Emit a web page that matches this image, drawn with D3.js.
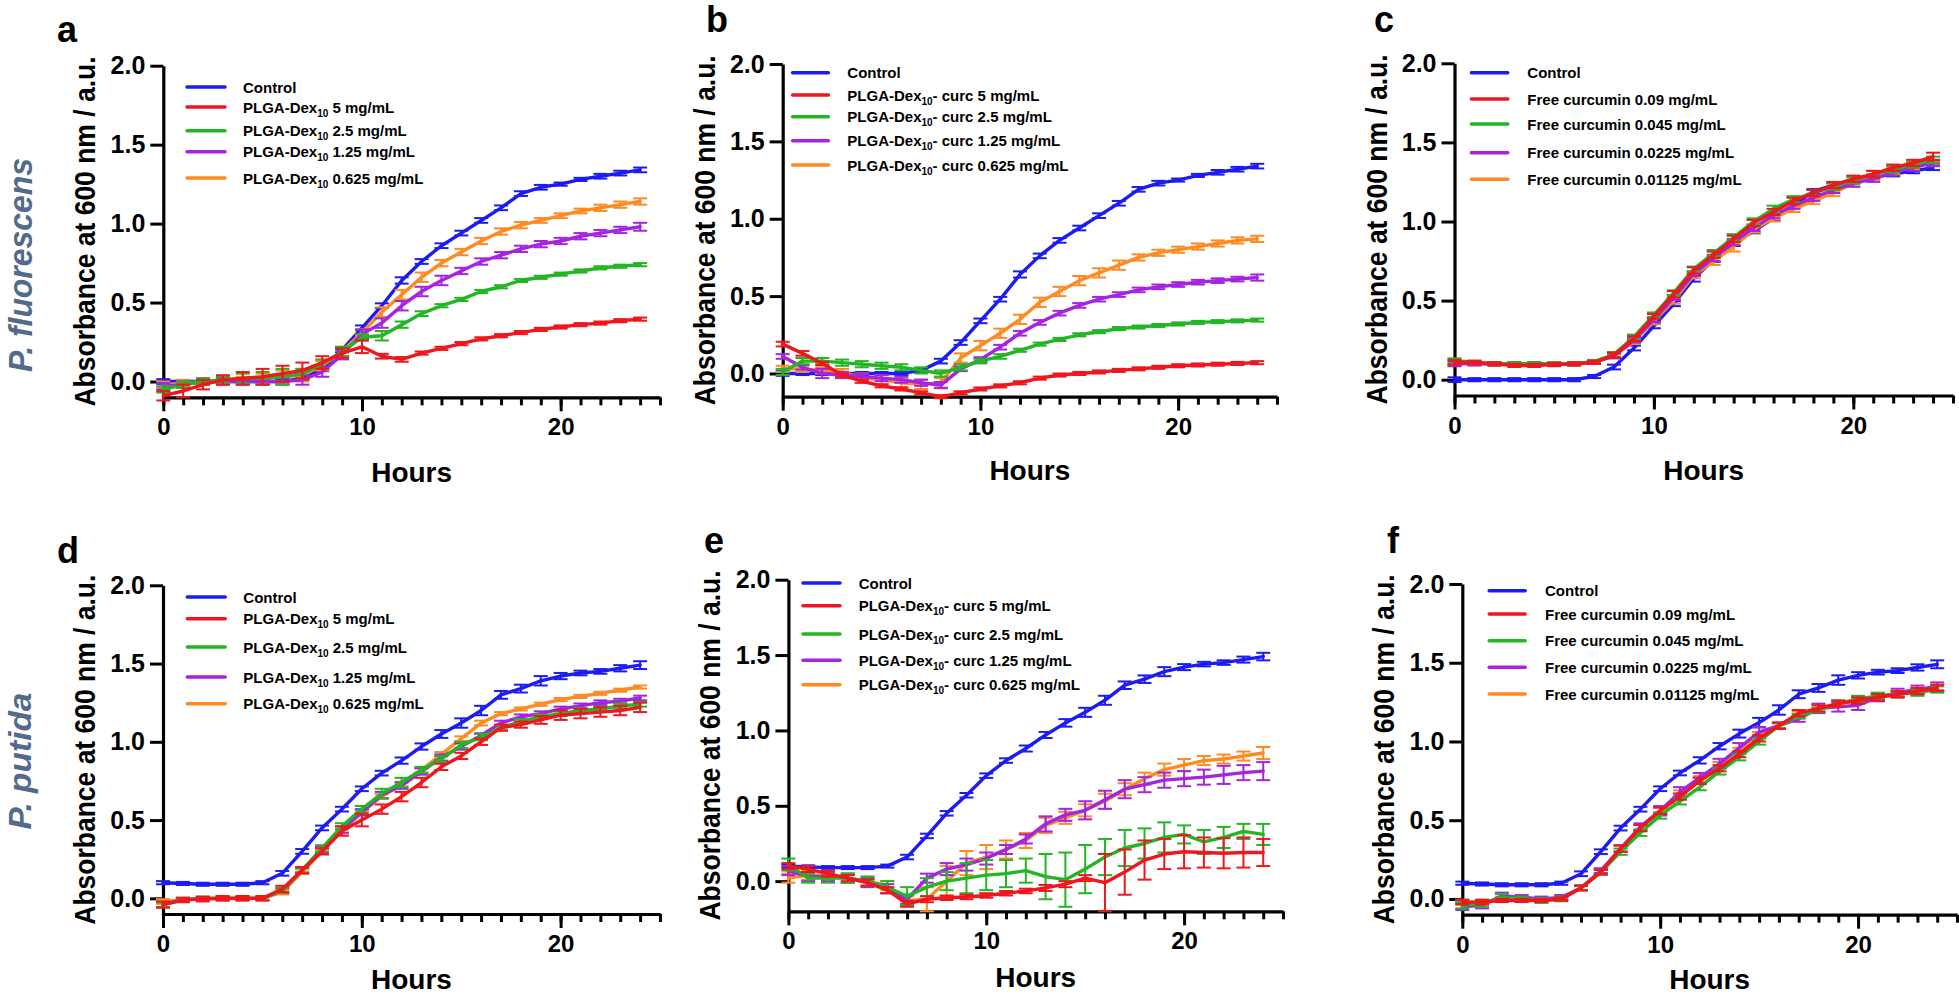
<!DOCTYPE html>
<html><head><meta charset="utf-8">
<script src="https://cdn.jsdelivr.net/npm/d3@7"></script>
<style>
body{margin:0;background:#fff}
svg{display:block}
text{font-family:"Liberation Sans",Arial,sans-serif;font-weight:bold;fill:#000}
</style>
</head><body>
<svg id="chart" width="1959" height="998"></svg>
<script>
// ---------------- DATA ----------------
const hours = [0,1,2,3,4,5,6,7,8,9,10,11,12,13,14,15,16,17,18,19,20,21,22,23,24];
const xTickLabels = [0,10,20];
const yTickValues = [0,0.5,1,1.5,2];

const seriesColors = ["#1c1cf2","#f0161e","#24b524","#a424e2","#ff8a22"];

const legendDex = [["Control"],["PLGA-Dex","10"," 5 mg/mL"],["PLGA-Dex","10"," 2.5 mg/mL"],["PLGA-Dex","10"," 1.25 mg/mL"],["PLGA-Dex","10"," 0.625 mg/mL"]];
const legendDexCurc = [["Control"],["PLGA-Dex","10","- curc 5 mg/mL"],["PLGA-Dex","10","- curc 2.5 mg/mL"],["PLGA-Dex","10","- curc 1.25 mg/mL"],["PLGA-Dex","10","- curc 0.625 mg/mL"]];
const legendFree = [["Control"],["Free curcumin 0.09 mg/mL"],["Free curcumin 0.045 mg/mL"],["Free curcumin 0.0225 mg/mL"],["Free curcumin 0.01125 mg/mL"]];

const yTitle = "Absorbance at 600 nm / a.u.";
const xTitle = "Hours";
const speciesLabels = ["P. fluorescens","P. putida"];

// controls
const ctrlFluo    = [0.00,0.00,0.00,0.00,0.00,0.00,0.00,0.02,0.08,0.20,0.34,0.48,0.64,0.76,0.86,0.94,1.02,1.10,1.19,1.23,1.25,1.28,1.30,1.32,1.34];
const ctrlFluoErr = [0.015,0.01,0.01,0.01,0.01,0.01,0.01,0.01,0.015,0.015,0.015,0.015,0.02,0.015,0.015,0.015,0.015,0.015,0.015,0.015,0.01,0.01,0.015,0.015,0.015];
const ctrlPut     = [0.10,0.095,0.09,0.09,0.09,0.10,0.16,0.30,0.45,0.57,0.70,0.80,0.88,0.97,1.05,1.12,1.20,1.30,1.34,1.39,1.42,1.44,1.45,1.47,1.49];
const ctrlPutErr  = [0.01,0.01,0.01,0.01,0.01,0.01,0.015,0.015,0.015,0.015,0.015,0.015,0.02,0.02,0.025,0.03,0.03,0.025,0.025,0.03,0.02,0.015,0.015,0.02,0.025];

// panel a
const aRed    = [-0.09,-0.06,-0.02,0.01,0.02,0.03,0.05,0.07,0.12,0.18,0.22,0.16,0.14,0.18,0.21,0.24,0.27,0.29,0.31,0.33,0.345,0.36,0.37,0.385,0.395];
const aGreen  = [-0.05,-0.02,0.00,0.01,0.02,0.02,0.03,0.05,0.11,0.19,0.28,0.29,0.36,0.43,0.48,0.52,0.57,0.60,0.64,0.66,0.68,0.70,0.72,0.73,0.74];
const aPurple = [-0.03,-0.02,0.00,0.00,0.00,0.00,0.00,0.01,0.06,0.17,0.30,0.37,0.48,0.57,0.64,0.70,0.76,0.80,0.84,0.87,0.89,0.92,0.94,0.96,0.98];
const aOrange = [-0.02,-0.01,0.00,0.01,0.01,0.02,0.03,0.04,0.10,0.19,0.31,0.44,0.55,0.66,0.75,0.82,0.89,0.95,0.99,1.02,1.05,1.08,1.10,1.12,1.14];
const aRedErr    = [0.03,0.04,0.03,0.03,0.04,0.05,0.05,0.05,0.04,0.03,0.04,0.015,0.015,0.01,0.01,0.01,0.01,0.01,0.01,0.01,0.01,0.01,0.01,0.01,0.01];
const aGreenErr  = [0.02,0.02,0.02,0.02,0.03,0.04,0.05,0.03,0.03,0.03,0.02,0.03,0.02,0.015,0.01,0.01,0.01,0.01,0.01,0.01,0.01,0.01,0.01,0.01,0.01];
const aPurpleErr = [0.02,0.02,0.02,0.02,0.02,0.02,0.02,0.03,0.03,0.03,0.03,0.03,0.03,0.03,0.03,0.02,0.02,0.02,0.02,0.02,0.02,0.02,0.02,0.02,0.025];
const aOrangeErr = [0.02,0.02,0.02,0.02,0.02,0.03,0.04,0.04,0.03,0.03,0.02,0.03,0.03,0.03,0.02,0.02,0.02,0.02,0.02,0.015,0.015,0.015,0.02,0.02,0.02];

// panel b
const bRed    = [0.19,0.13,0.065,-0.01,-0.05,-0.08,-0.10,-0.125,-0.15,-0.125,-0.10,-0.08,-0.06,-0.03,-0.01,0.00,0.01,0.02,0.03,0.04,0.05,0.055,0.06,0.065,0.07];
const bGreen  = [0.01,0.08,0.08,0.07,0.06,0.05,0.04,0.02,0.00,0.04,0.08,0.11,0.15,0.19,0.22,0.25,0.27,0.29,0.30,0.31,0.32,0.33,0.335,0.34,0.345];
const bPurple = [0.11,0.04,0.00,-0.01,-0.02,-0.03,-0.04,-0.06,-0.075,0.03,0.09,0.17,0.26,0.33,0.39,0.44,0.48,0.51,0.54,0.56,0.575,0.59,0.60,0.61,0.62];
const bOrange = [0.03,0.03,0.02,0.01,-0.03,-0.04,-0.06,-0.07,-0.06,0.10,0.18,0.26,0.35,0.46,0.53,0.60,0.65,0.70,0.75,0.78,0.80,0.82,0.84,0.86,0.87];
const bRedErr    = [0.015,0.015,0.01,0.01,0.01,0.01,0.01,0.01,0.01,0.01,0.01,0.01,0.01,0.01,0.01,0.01,0.01,0.01,0.01,0.01,0.01,0.01,0.01,0.01,0.01];
const bGreenErr  = [0.02,0.02,0.02,0.02,0.02,0.02,0.02,0.02,0.02,0.02,0.015,0.015,0.01,0.01,0.01,0.01,0.01,0.01,0.01,0.01,0.01,0.01,0.01,0.01,0.01];
const bPurpleErr = [0.015,0.015,0.03,0.02,0.02,0.02,0.02,0.02,0.02,0.015,0.015,0.015,0.015,0.015,0.015,0.015,0.015,0.015,0.015,0.015,0.015,0.015,0.015,0.015,0.02];
const bOrangeErr = [0.02,0.02,0.02,0.02,0.03,0.03,0.03,0.03,0.03,0.03,0.03,0.03,0.03,0.03,0.03,0.03,0.03,0.03,0.02,0.02,0.02,0.02,0.02,0.02,0.02];

// panel c
const cRed    = [0.11,0.11,0.10,0.09,0.09,0.095,0.10,0.11,0.155,0.26,0.40,0.54,0.69,0.79,0.89,0.99,1.06,1.13,1.18,1.23,1.27,1.30,1.34,1.37,1.41];
const cGreen  = [0.12,0.11,0.10,0.10,0.10,0.10,0.10,0.115,0.16,0.27,0.41,0.55,0.70,0.80,0.90,1.00,1.08,1.14,1.18,1.22,1.26,1.30,1.33,1.36,1.39];
const cPurple = [0.10,0.10,0.10,0.10,0.10,0.10,0.10,0.11,0.15,0.25,0.38,0.52,0.67,0.77,0.87,0.96,1.04,1.10,1.15,1.20,1.24,1.27,1.31,1.34,1.37];
const cOrange = [0.11,0.10,0.10,0.10,0.10,0.10,0.10,0.11,0.15,0.24,0.37,0.50,0.66,0.75,0.84,0.95,1.02,1.08,1.13,1.18,1.24,1.28,1.32,1.35,1.37];
const cRedErr    = [0.015,0.01,0.01,0.01,0.01,0.01,0.01,0.01,0.015,0.015,0.015,0.02,0.02,0.02,0.02,0.02,0.02,0.02,0.02,0.02,0.02,0.02,0.02,0.02,0.025];
const cGreenErr  = [0.015,0.01,0.01,0.01,0.01,0.01,0.01,0.01,0.015,0.015,0.015,0.015,0.015,0.02,0.02,0.02,0.02,0.02,0.02,0.02,0.02,0.02,0.02,0.02,0.02];
const cPurpleErr = [0.015,0.01,0.01,0.01,0.01,0.01,0.01,0.01,0.015,0.015,0.015,0.015,0.015,0.02,0.02,0.02,0.02,0.02,0.02,0.02,0.02,0.02,0.02,0.02,0.02];
const cOrangeErr = [0.015,0.01,0.01,0.01,0.01,0.01,0.01,0.01,0.015,0.015,0.02,0.02,0.02,0.025,0.03,0.02,0.02,0.02,0.02,0.02,0.02,0.02,0.02,0.02,0.02];

// panel d
const dRed    = [-0.04,-0.01,-0.005,0.00,0.00,0.00,0.06,0.18,0.30,0.43,0.50,0.57,0.65,0.74,0.84,0.91,1.00,1.09,1.11,1.14,1.17,1.18,1.19,1.20,1.22];
const dGreen  = [-0.04,-0.01,0.00,0.00,0.00,0.00,0.05,0.18,0.32,0.46,0.57,0.67,0.74,0.82,0.89,0.98,1.03,1.09,1.13,1.16,1.18,1.20,1.21,1.23,1.24];
const dPurple = [-0.04,-0.01,0.00,0.00,0.00,0.00,0.05,0.18,0.31,0.44,0.55,0.66,0.72,0.81,0.90,0.97,1.04,1.12,1.16,1.18,1.21,1.23,1.25,1.26,1.28];
const dOrange = [-0.02,-0.01,0.00,0.00,0.00,0.00,0.04,0.17,0.30,0.43,0.55,0.65,0.73,0.82,0.92,1.02,1.12,1.18,1.21,1.24,1.27,1.29,1.31,1.33,1.35];
const dRedErr    = [0.02,0.015,0.015,0.015,0.015,0.015,0.02,0.02,0.02,0.03,0.04,0.03,0.03,0.03,0.02,0.02,0.02,0.02,0.02,0.025,0.03,0.03,0.03,0.03,0.03];
const dGreenErr  = [0.015,0.01,0.01,0.01,0.01,0.01,0.015,0.015,0.02,0.02,0.02,0.03,0.03,0.02,0.02,0.02,0.02,0.015,0.015,0.015,0.015,0.015,0.015,0.015,0.015];
const dPurpleErr = [0.015,0.01,0.01,0.01,0.01,0.01,0.015,0.015,0.02,0.02,0.02,0.02,0.02,0.02,0.02,0.02,0.015,0.015,0.015,0.015,0.015,0.015,0.015,0.015,0.015];
const dOrangeErr = [0.015,0.01,0.01,0.01,0.01,0.01,0.015,0.015,0.015,0.015,0.015,0.015,0.015,0.015,0.015,0.015,0.015,0.01,0.01,0.01,0.01,0.01,0.01,0.01,0.01];

// panel e
const eRed    = [0.10,0.08,0.05,0.02,-0.01,-0.06,-0.15,-0.12,-0.11,-0.105,-0.095,-0.08,-0.065,-0.045,-0.02,0.02,-0.01,0.06,0.14,0.18,0.195,0.19,0.185,0.19,0.19];
const eGreen  = [0.11,0.02,0.02,0.02,0.00,-0.04,-0.10,-0.04,0.00,0.02,0.04,0.05,0.07,0.03,0.01,0.08,0.16,0.22,0.25,0.29,0.31,0.26,0.29,0.33,0.31];
const ePurple = [0.07,0.03,0.03,0.02,-0.01,-0.05,-0.12,0.02,0.08,0.11,0.15,0.21,0.28,0.38,0.44,0.47,0.54,0.61,0.64,0.67,0.68,0.69,0.705,0.72,0.73];
const eOrange = [0.02,0.04,0.04,0.02,0.00,-0.03,-0.13,-0.12,0.00,0.12,0.16,0.21,0.27,0.37,0.42,0.47,0.53,0.61,0.68,0.74,0.77,0.80,0.81,0.83,0.85];
const eRedErr    = [0.02,0.02,0.02,0.02,0.02,0.02,0.02,0.02,0.015,0.015,0.015,0.015,0.015,0.02,0.02,0.02,0.19,0.15,0.13,0.10,0.11,0.10,0.10,0.10,0.09];
const eGreenErr  = [0.04,0.03,0.03,0.03,0.03,0.04,0.06,0.06,0.06,0.10,0.10,0.09,0.08,0.15,0.18,0.16,0.12,0.12,0.10,0.10,0.06,0.08,0.07,0.05,0.07];
const ePurpleErr = [0.03,0.03,0.03,0.03,0.03,0.03,0.03,0.03,0.04,0.04,0.04,0.03,0.03,0.05,0.04,0.06,0.06,0.06,0.05,0.05,0.05,0.05,0.06,0.05,0.06];
const eOrangeErr = [0.03,0.03,0.03,0.03,0.03,0.03,0.03,0.08,0.10,0.08,0.08,0.06,0.05,0.05,0.04,0.04,0.05,0.04,0.04,0.04,0.04,0.03,0.03,0.03,0.04];

// panel f
const fRed    = [-0.02,-0.02,-0.01,-0.01,-0.01,0.00,0.07,0.17,0.32,0.45,0.56,0.65,0.75,0.83,0.92,1.02,1.10,1.18,1.21,1.24,1.26,1.28,1.30,1.32,1.34];
const fGreen  = [-0.04,-0.03,0.01,0.00,-0.01,0.00,0.07,0.17,0.30,0.42,0.53,0.62,0.71,0.81,0.90,1.00,1.10,1.16,1.20,1.24,1.27,1.29,1.30,1.31,1.33];
const fPurple = [-0.05,-0.04,0.02,0.01,0.00,0.01,0.07,0.18,0.32,0.46,0.56,0.68,0.77,0.86,0.96,1.06,1.10,1.145,1.21,1.22,1.23,1.28,1.31,1.33,1.35];
const fOrange = [-0.02,-0.02,0.00,0.00,0.00,0.00,0.07,0.17,0.32,0.45,0.56,0.67,0.76,0.85,0.94,1.04,1.10,1.17,1.21,1.24,1.26,1.28,1.30,1.32,1.34];
const fRedErr    = [0.015,0.015,0.01,0.01,0.01,0.01,0.015,0.015,0.02,0.02,0.02,0.02,0.02,0.02,0.02,0.02,0.02,0.02,0.02,0.02,0.02,0.02,0.02,0.02,0.02];
const fGreenErr  = [0.02,0.02,0.02,0.015,0.015,0.015,0.015,0.015,0.02,0.02,0.02,0.02,0.02,0.02,0.02,0.02,0.015,0.015,0.015,0.02,0.02,0.02,0.02,0.02,0.02];
const fPurpleErr = [0.02,0.02,0.02,0.015,0.015,0.015,0.015,0.015,0.02,0.02,0.03,0.03,0.03,0.03,0.03,0.03,0.02,0.02,0.03,0.03,0.03,0.025,0.025,0.025,0.025];
const fOrangeErr = [0.015,0.015,0.01,0.01,0.01,0.01,0.015,0.015,0.02,0.02,0.02,0.02,0.02,0.02,0.02,0.02,0.02,0.02,0.02,0.02,0.02,0.02,0.02,0.02,0.02];

// ---------------- LAYOUT ----------------
const panels = [
  {letter:"a", lx:57,   ly:42,  x0:163.3, x1:660,  yTop:65.7, yBot:397.3, ymin:-0.1,
   vals:[ctrlFluo,aRed,aGreen,aPurple,aOrange], errs:[ctrlFluoErr,aRedErr,aGreenErr,aPurpleErr,aOrangeErr],
   legend:legendDex, lg:{x1:187,x2:225,tx:243,ys:[87,107,130.7,151.7,178]}, hoursY:482},
  {letter:"b", lx:706,  ly:32,  x0:782.7, x1:1277, yTop:64,   yBot:396.7, ymin:-0.15,
   vals:[ctrlFluo,bRed,bGreen,bPurple,bOrange], errs:[ctrlFluoErr,bRedErr,bGreenErr,bPurpleErr,bOrangeErr],
   legend:legendDexCurc, lg:{x1:792.6,x2:828.4,tx:847.3,ys:[72.7,95,116.7,140.7,165]}, hoursY:480},
  {letter:"c", lx:1374, ly:32,  x0:1454.5,x1:1953, yTop:63.3, yBot:395.5, ymin:-0.1,
   vals:[ctrlFluo,cRed,cGreen,cPurple,cOrange], errs:[ctrlFluoErr,cRedErr,cGreenErr,cPurpleErr,cOrangeErr],
   legend:legendFree, lg:{x1:1471.4,x2:1507.8,tx:1527.3,ys:[72.7,99,124,152.7,179.3]}, hoursY:480},
  {letter:"d", lx:57,   ly:563, x0:163,   x1:660,  yTop:585.3,yBot:914,   ymin:-0.1,
   vals:[ctrlPut,dRed,dGreen,dPurple,dOrange], errs:[ctrlPutErr,dRedErr,dGreenErr,dPurpleErr,dOrangeErr],
   legend:legendDex, lg:{x1:187.3,x2:225.2,tx:243.3,ys:[597,618.7,647,677,703.7]}, hoursY:989},
  {letter:"e", lx:704,  ly:553, x0:788.4, x1:1283, yTop:579.7,yBot:911.3, ymin:-0.2,
   vals:[ctrlPut,eRed,eGreen,ePurple,eOrange], errs:[ctrlPutErr,eRedErr,eGreenErr,ePurpleErr,eOrangeErr],
   legend:legendDexCurc, lg:{x1:803,x2:840,tx:858.7,ys:[583,605.7,634,660.3,684.7]}, hoursY:987},
  {letter:"f", lx:1387, ly:553, x0:1462.3,x1:1957, yTop:584,  yBot:914.7, ymin:-0.1,
   vals:[ctrlPut,fRed,fGreen,fPurple,fOrange], errs:[ctrlPutErr,fRedErr,fGreenErr,fPurpleErr,fOrangeErr],
   legend:legendFree, lg:{x1:1489.2,x2:1525.2,tx:1545,ys:[590.7,614,640.7,667.3,694]}, hoursY:989}
];
const drawOrder = [0,4,3,2,1];

const svg = d3.select("#chart");

panels.forEach(p => {
  const g = svg.append("g");
  const x = d3.scaleLinear().domain([0,25]).range([p.x0,p.x1]);
  const y = d3.scaleLinear().domain([p.ymin,2]).range([p.yBot,p.yTop]);

  // panel letter
  g.append("text").attr("x",p.lx).attr("y",p.ly).attr("font-size",36).text(p.letter);

  // x axis minor
  const xMinor = g.append("g").attr("transform",`translate(0,${p.yBot})`)
    .call(d3.axisBottom(x).tickValues(d3.range(0,26)).tickSize(8).tickSizeOuter(0).tickFormat(""));
  // x axis major
  const xMajor = g.append("g").attr("transform",`translate(0,${p.yBot})`)
    .call(d3.axisBottom(x).tickValues(xTickLabels).tickSize(14).tickSizeOuter(0).tickPadding(7).tickFormat(d3.format("d")));
  xMajor.select(".domain").remove();
  xMajor.selectAll("text").attr("font-size",24).attr("font-family",'"Liberation Sans",Arial,sans-serif').attr("font-weight","bold").attr("fill","#000");

  // y axis
  const yAx = g.append("g").attr("transform",`translate(${p.x0},0)`)
    .call(d3.axisLeft(y).tickValues(yTickValues).tickSize(13).tickSizeOuter(0).tickPadding(5).tickFormat(d3.format(".1f")));
  yAx.selectAll("text").attr("font-size",25).attr("font-family",'"Liberation Sans",Arial,sans-serif').attr("font-weight","bold").attr("fill","#000");

  [xMinor,xMajor,yAx].forEach(a=>{
    a.selectAll(".domain").attr("stroke","#000").attr("stroke-width",3.2);
    a.selectAll(".tick line").attr("stroke","#000").attr("stroke-width",3);
  });

  // axis titles
  g.append("text")
    .attr("transform",`translate(${p.x0-68},${(p.yTop+p.yBot)/2}) rotate(-90)`)
    .attr("text-anchor","middle").attr("font-size",30)
    .attr("textLength",350).attr("lengthAdjust","spacingAndGlyphs")
    .text(yTitle);
  g.append("text").attr("x",x(12.5)).attr("y",p.hoursY)
    .attr("text-anchor","middle").attr("font-size",28).text(xTitle);

  // series
  const line = d3.line().x((d,i)=>x(hours[i])).y(d=>y(d));
  drawOrder.forEach(si => {
    const vals = p.vals[si], errs = p.errs[si], col = seriesColors[si];
    const sg = g.append("g");
    hours.forEach((h,i)=>{
      const cx = x(h), yl = y(vals[i]-errs[i]), yh = y(vals[i]+errs[i]);
      sg.append("line").attr("x1",cx).attr("x2",cx).attr("y1",yl).attr("y2",yh).attr("stroke",col).attr("stroke-width",2);
      sg.append("line").attr("x1",cx-7).attr("x2",cx+7).attr("y1",yl).attr("y2",yl).attr("stroke",col).attr("stroke-width",2);
      sg.append("line").attr("x1",cx-7).attr("x2",cx+7).attr("y1",yh).attr("y2",yh).attr("stroke",col).attr("stroke-width",2);
    });
    sg.append("path").datum(vals).attr("d",line).attr("fill","none").attr("stroke",col)
      .attr("stroke-width",3.4).attr("stroke-linejoin","round").attr("stroke-linecap","round");
  });

  // legend
  p.legend.forEach((parts,i)=>{
    const ly = p.lg.ys[i];
    g.append("line").attr("x1",p.lg.x1).attr("x2",p.lg.x2).attr("y1",ly).attr("y2",ly)
      .attr("stroke",seriesColors[i]).attr("stroke-width",3.5).attr("stroke-linecap","round");
    const t = g.append("text").attr("x",p.lg.tx).attr("y",ly+5.5).attr("font-size",15);
    if (parts.length===1) { t.text(parts[0]); }
    else {
      t.append("tspan").text(parts[0]);
      t.append("tspan").attr("font-size",10).attr("dy",4).text(parts[1]);
      t.append("tspan").attr("dy",-4).text(parts[2]);
    }
  });
});

// species labels
svg.append("text").attr("transform","translate(32,265) rotate(-90)")
  .attr("text-anchor","middle").attr("font-size",33).attr("font-style","italic")
  .style("fill","#536a8a")
  .attr("textLength",214).attr("lengthAdjust","spacingAndGlyphs").text(speciesLabels[0]);
svg.append("text").attr("transform","translate(31,761) rotate(-90)")
  .attr("text-anchor","middle").attr("font-size",31).attr("font-style","italic")
  .style("fill","#536a8a")
  .attr("textLength",137).attr("lengthAdjust","spacingAndGlyphs").text(speciesLabels[1]);
</script>
</body></html>
